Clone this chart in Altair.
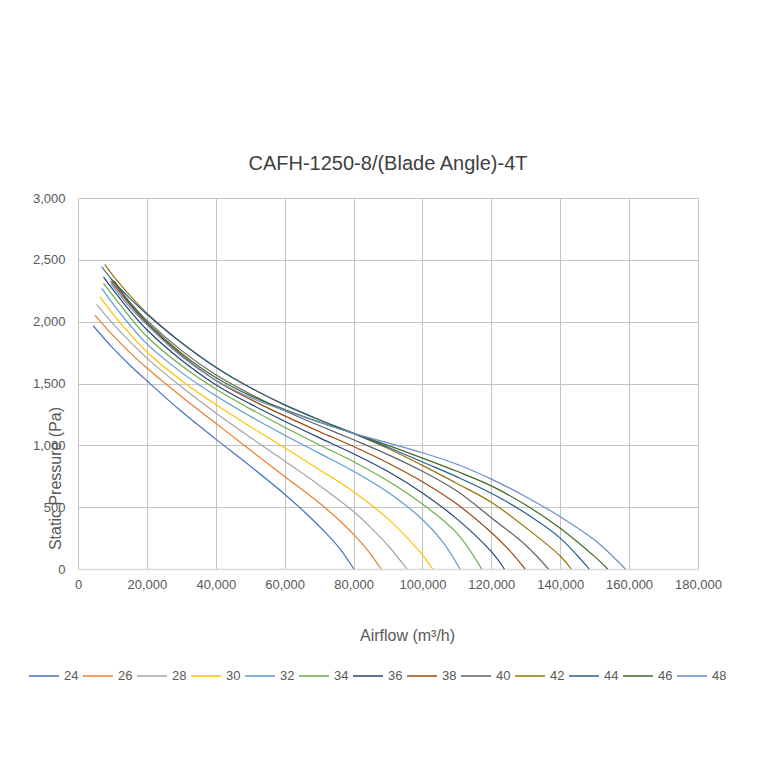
import altair as alt
import pandas as pd

angles = ["24", "26", "28", "30", "32", "34", "36", "38", "40", "42", "44", "46", "48"]
colors = ["#4472C4", "#ED7D31", "#A5A5A5", "#FFC000", "#5B9BD5", "#70AD47",
          "#264478", "#9E480E", "#636363", "#997300", "#255E91", "#43682B", "#698ED0"]

flow_24 = [4400, 10000, 15000, 20000, 30000, 40000, 50000, 60000, 66000, 72000, 76000, 80100]
pres_24 = [1967, 1790, 1650, 1522, 1275, 1050, 832, 605, 455, 290, 165, 0]

flow_26 = [4900, 10000, 15000, 20000, 30000, 40000, 50000, 60000, 70000, 76000, 80000, 84000, 88000]
pres_26 = [2053, 1893, 1752, 1625, 1395, 1178, 962, 748, 535, 390, 280, 155, 0]

flow_28 = [5400, 10000, 15000, 20000, 30000, 40000, 50000, 60000, 70000, 80000, 85000, 90000, 95500]
pres_28 = [2140, 1988, 1840, 1705, 1473, 1262, 1065, 873, 678, 465, 335, 190, 0]

flow_30 = [6400, 10000, 15000, 20000, 30000, 40000, 50000, 60000, 70000, 80000, 90000, 96000, 100000, 103000]
pres_30 = [2201, 2068, 1903, 1755, 1525, 1330, 1152, 980, 805, 625, 405, 240, 115, 0]

flow_32 = [6900, 10000, 15000, 20000, 30000, 40000, 50000, 60000, 70000, 80000, 90000, 100000, 106000, 110900]
pres_32 = [2269, 2150, 1975, 1820, 1590, 1400, 1235, 1082, 937, 790, 620, 400, 215, 0]

flow_34 = [7400, 10000, 15000, 20000, 30000, 40000, 50000, 60000, 70000, 80000, 90000, 100000, 110000, 117200]
pres_34 = [2310, 2215, 2040, 1880, 1645, 1455, 1295, 1146, 1005, 868, 712, 525, 290, 0]

flow_36 = [7400, 10000, 15000, 20000, 30000, 40000, 50000, 60000, 70000, 80000, 90000, 100000, 110000, 120000, 123800]
pres_36 = [2363, 2265, 2090, 1935, 1690, 1490, 1335, 1195, 1062, 932, 788, 615, 405, 140, 0]

flow_38 = [9500, 15000, 20000, 30000, 40000, 50000, 60000, 70000, 80000, 90000, 100000, 110000, 120000, 125000, 129800]
pres_38 = [2330, 2140, 1985, 1730, 1525, 1372, 1238, 1112, 990, 857, 705, 525, 295, 158, 0]

flow_40 = [10000, 15000, 20000, 30000, 40000, 50000, 60000, 70000, 80000, 90000, 100000, 110000, 120000, 130000, 136600]
pres_40 = [2330, 2160, 2010, 1768, 1570, 1415, 1280, 1160, 1045, 925, 790, 630, 415, 192, 0]

flow_42 = [7800, 10000, 15000, 20000, 30000, 40000, 50000, 60000, 70000, 80000, 90000, 100000, 110000, 120000, 130000, 140000, 143200]
pres_42 = [2463, 2378, 2215, 2068, 1832, 1632, 1467, 1327, 1207, 1095, 975, 838, 692, 540, 335, 105, 0]

flow_44 = [6900, 10000, 15000, 20000, 30000, 40000, 50000, 60000, 70000, 80000, 90000, 100000, 110000, 120000, 130000, 140000, 148400]
pres_44 = [2444, 2335, 2190, 2060, 1830, 1632, 1467, 1327, 1207, 1097, 985, 865, 745, 612, 450, 250, 0]

flow_46 = [10500, 15000, 20000, 30000, 40000, 50000, 60000, 70000, 80000, 90000, 100000, 110000, 120000, 130000, 140000, 150000, 153800]
pres_46 = [2330, 2150, 1995, 1745, 1548, 1402, 1290, 1190, 1097, 1000, 897, 790, 672, 517, 330, 100, 0]

flow_48 = [9500, 15000, 20000, 30000, 40000, 50000, 60000, 70000, 80000, 90000, 100000, 110000, 120000, 130000, 140000, 150000, 158900]
pres_48 = [2310, 2120, 1975, 1720, 1527, 1387, 1282, 1187, 1097, 1020, 940, 847, 727, 585, 423, 234, 0]

x_ticks = [0, 20000, 40000, 60000, 80000, 100000, 120000, 140000, 160000, 180000]
y_ticks = [0, 500, 1000, 1500, 2000, 2500, 3000]

series = {
    "24": (flow_24, pres_24), "26": (flow_26, pres_26), "28": (flow_28, pres_28),
    "30": (flow_30, pres_30), "32": (flow_32, pres_32), "34": (flow_34, pres_34),
    "36": (flow_36, pres_36), "38": (flow_38, pres_38), "40": (flow_40, pres_40),
    "42": (flow_42, pres_42), "44": (flow_44, pres_44), "46": (flow_46, pres_46),
    "48": (flow_48, pres_48),
}

rows = []
for a in angles:
    fl, pr = series[a]
    for i, (f, p) in enumerate(zip(fl, pr)):
        rows.append({"angle": a, "flow": f, "pressure": p, "idx": i})
df = pd.DataFrame(rows)

FONT = "Liberation Sans"
GRAY = "#595959"

chart = alt.Chart(df).mark_line(interpolate="catmull-rom", strokeWidth=1.2).encode(
    x=alt.X("flow:Q",
            scale=alt.Scale(domain=[0, 180000], nice=False, zero=False),
            axis=alt.Axis(values=x_ticks, format=",.0f", title="Airflow (m³/h)",
                          labelFlush=False, labelOverlap=False, ticks=False, tickSize=0,
                          labelPadding=9, labelFontSize=13, labelColor=GRAY, labelFont=FONT,
                          titleFontSize=16, titleColor=GRAY, titleFont=FONT, titleFontWeight="normal",
                          titleX=329, titleY=66, titleAlign="center", titleBaseline="middle",
                          domainColor="#D9D9D9", domainWidth=1.5,
                          gridColor="#C4C4C4", gridWidth=1)),
    y=alt.Y("pressure:Q",
            scale=alt.Scale(domain=[0, 3000], nice=False, zero=False),
            axis=alt.Axis(values=y_ticks, format=",.0f", title="Static Pressure (Pa)",
                          labelFlush=False, labelOverlap=False, ticks=False, tickSize=0,
                          labelPadding=13, labelFontSize=13, labelColor=GRAY, labelFont=FONT,
                          titleFontSize=16, titleColor=GRAY, titleFont=FONT, titleFontWeight="normal",
                          titleAngle=270, titleX=-23, titleY=280, titleAlign="center",
                          titleBaseline="middle", domain=False,
                          gridColor="#C4C4C4", gridWidth=1)),
    color=alt.Color("angle:N", sort=angles,
                    scale=alt.Scale(domain=angles, range=colors),
                    legend=alt.Legend(title=None, orient="none", legendX=-50, legendY=462,
                                      direction="horizontal", columns=13, symbolType="stroke",
                                      symbolSize=900, symbolStrokeWidth=1.5, labelFontSize=13,
                                      labelColor=GRAY, labelFont=FONT, labelOffset=4,
                                      columnPadding=1, padding=0)),
    order=alt.Order("idx:Q"),
).properties(
    width=620,
    height=371,
    title=alt.TitleParams("CAFH-1250-8/(Blade Angle)-4T", fontSize=20, font=FONT,
                          color="#404040", fontWeight="normal", anchor="middle", offset=18),
    autosize=alt.AutoSizeParams(type="none"),
    padding={"left": 70, "top": 190, "right": 40, "bottom": 170},
).configure_view(stroke=None)

chart.save("out.html", embed_options={"renderer": "svg", "actions": False})
